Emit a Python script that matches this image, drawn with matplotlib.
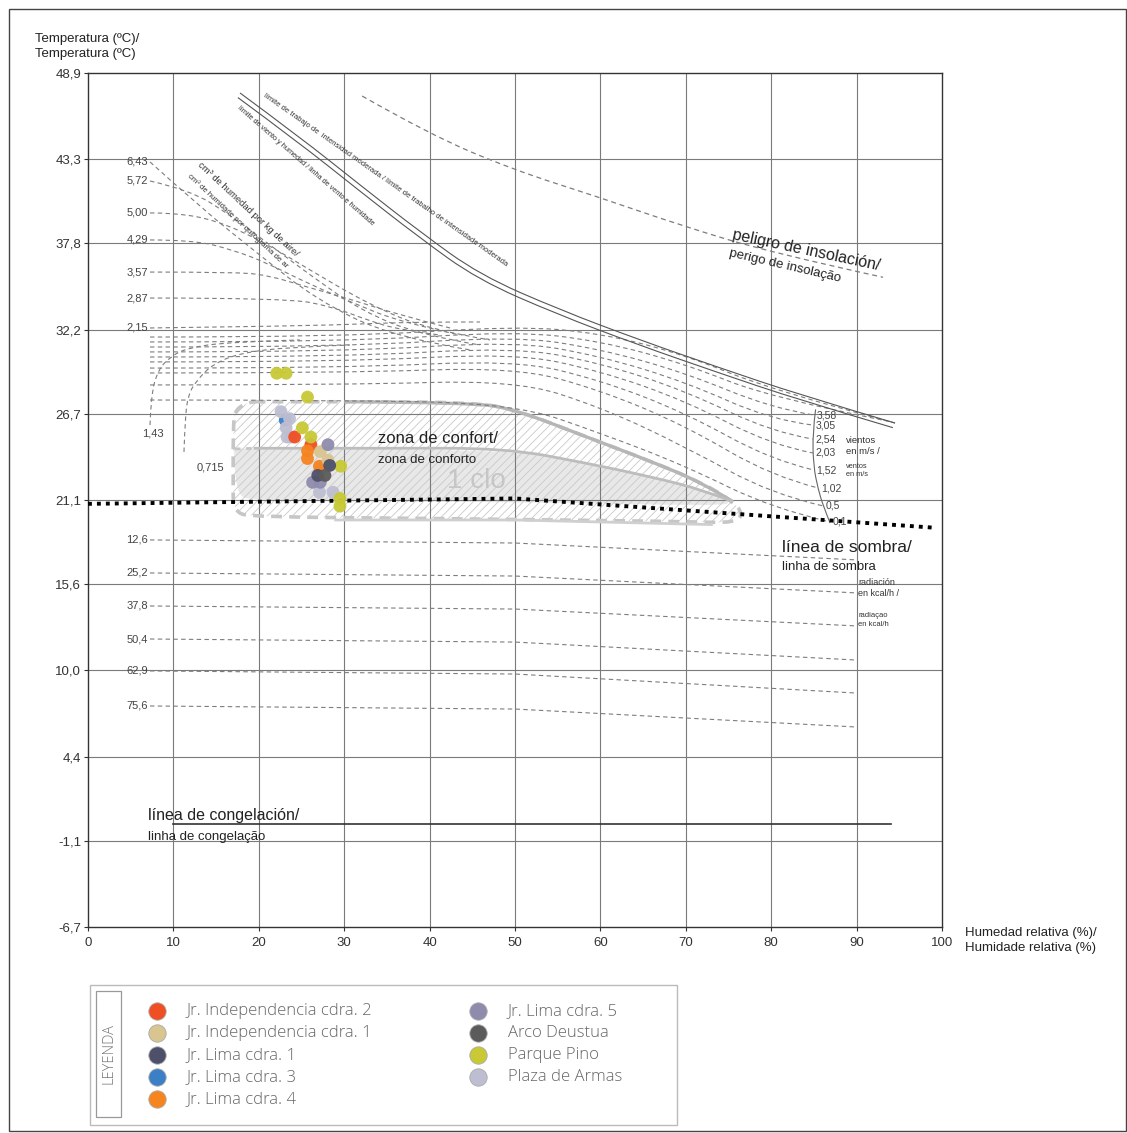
import numpy as np
import matplotlib
matplotlib.use("Agg")
import matplotlib.pyplot as plt
from matplotlib.path import Path
from matplotlib.patches import PathPatch, Rectangle

plt.rcParams['font.family'] = ['Liberation Sans', 'DejaVu Sans']
plt.rcParams['hatch.linewidth'] = 0.6

W, H = 1127, 1133

# ---------------- axis scales ----------------
hum_ticks = list(range(0, 101, 10))
temp_ticks = [48.9, 43.3, 37.8, 32.2, 26.7, 21.1, 15.6, 10.0, 4.4, -1.1, -6.7]
temp_tick_labels = ["48,9", "43,3", "37,8", "32,2", "26,7", "21,1", "15,6",
                    "10,0", "4,4", "-1,1", "-6,7"]

# ---------------- measured stations (humidity %, temperature C) ----------------
station_names = ["Jr. Independencia cdra. 2", "Jr. Independencia cdra. 1",
                 "Jr. Lima cdra. 1", "Jr. Lima cdra. 3", "Jr. Lima cdra. 4",
                 "Jr. Lima cdra. 5", "Arco Deustua", "Parque Pino",
                 "Plaza de Armas"]
station_colors = ["#f04e23", "#d9c590", "#4d5068", "#3b80c6", "#f6841f",
                  "#8f8bad", "#5b5b5b", "#c8c935", "#bebed2"]

lima3_hum = [23.1]
lima3_temp = [26.3]
plaza_hum = [22.6, 23.6, 23.2, 23.3, 23.8, 27.8, 27.1, 28.7]
plaza_temp = [26.85, 26.4, 25.8, 25.2, 25.2, 23.3, 21.6, 21.6]
indep2_hum = [24.2, 26.1]
indep2_temp = [25.2, 24.7]
pino_hum = [22.1, 23.2, 25.7, 25.1, 26.1, 29.6, 29.5, 29.5]
pino_temp = [29.35, 29.35, 27.8, 25.8, 25.2, 23.3, 21.2, 20.7]
lima4_hum = [25.7, 25.7, 27.1]
lima4_temp = [24.3, 23.8, 23.3]
indep1_hum = [27.2, 28.1]
indep1_temp = [24.25, 23.7]
lima5_hum = [28.1, 26.3, 27.2]
lima5_temp = [24.7, 22.25, 22.25]
lima1_hum = [28.3, 26.9]
lima1_temp = [23.35, 22.7]
arco_hum = [27.75]
arco_temp = [22.7]

# ---------------- bioclimatic reference curves ----------------
moisture_labels = ["6,43", "5,72", "5,00", "4,29", "3,57", "2,87", "2,15"]
moisture_curves = [
    [(7.26, 43.11), (13.11, 40.18), (19.79, 37.18), (26.81, 34.12), (35.71, 31.71), (44.73, 30.87)],
    [(7.26, 41.87), (11.94, 41.28), (16.63, 39.66), (21.31, 37.7), (26.0, 35.75), (31.85, 33.47), (38.88, 31.84), (45.9, 31.19)],
    [(7.26, 39.79), (10.19, 39.79), (14.87, 39.33), (20.14, 38.03), (26.0, 36.07), (33.02, 33.8), (40.05, 32.17), (47.07, 31.52)],
    [(7.26, 38.03), (12.3, 38.03), (16.98, 37.38), (20.96, 36.53), (25.64, 35.23), (31.03, 33.93), (36.53, 32.69), (43.56, 31.84)],
    [(7.26, 35.94), (16.98, 35.94), (20.96, 35.75), (25.64, 34.97), (31.03, 34.12), (36.53, 33.14), (42.39, 32.3)],
    [(7.26, 34.25), (23.3, 34.25), (28.69, 33.67), (32.67, 32.82), (36.53, 32.17), (41.22, 31.84)],
    [(7.26, 32.3), (24.82, 32.43), (31.85, 32.56), (38.88, 32.69), (45.9, 32.69)],
]

arc_labels = ["1,43", "0,715"]
arc_curves = [
    [(7.26, 25.98), (7.38, 27.94), (8.2, 29.56), (9.6, 30.41), (11.59, 31.0), (16.63, 31.39), (24.82, 31.52)],
    [(11.24, 24.23), (11.36, 26.31), (11.71, 27.94), (12.76, 28.91), (14.64, 29.95), (17.8, 30.67), (23.65, 31.06), (30.68, 31.19)],
]

wind_labels = ["3,58", "3,05", "2,54", "2,03", "1,52", "1,02", "0,5", "0,1"]
wind_start = [31.71, 31.39, 31.06, 30.74, 30.41, 30.09, 29.69, 29.37, 28.59, 27.61]
wind_at50 = [32.43, 32.1, 31.78, 31.45, 31.06, 30.67, 30.22, 29.76, 28.91, 27.35]
wind_at60 = [31.97, 31.45, 30.93, 30.47, 30.02, 29.5, 28.91, 28.26, 27.16, 25.46]
wind_at70 = [30.54, 29.95, 29.37, 28.78, 28.2, 27.55, 26.76, 25.92, 24.55, 23.31]
wind_at80 = [28.26, 27.74, 27.09, 26.31, 25.53, 24.68, 23.7, 22.66, 21.49, 20.58]
wind_end_hum = [94.5, 94.0, 85.0, 84.85, 84.85, 84.9, 85.0, 85.5, 86.1, 86.9]
wind_end_temp = [26.11, 26.2, 26.63, 25.98, 25.07, 24.16, 23.05, 21.88, 20.71, 19.67]
wind_end_curve = [(85.2, 27.0), (84.85, 25.5), (84.95, 23.3), (85.5, 21.8), (86.1, 20.7), (86.9, 19.6)]

radiation_labels = ["12,6", "25,2", "37,8", "50,4", "62,9", "75,6"]
radiation_left = [18.5, 16.35, 14.2, 12.05, 9.97, 7.69]
radiation_right = [17.2, 15.05, 12.9, 10.68, 8.53, 6.32]

work_limit = [(17.8, 47.6), (24.8, 44.73), (31.85, 41.61), (38.9, 38.55), (45.9, 35.75),
              (55.3, 33.47), (64.6, 31.52), (74.0, 29.7), (83.4, 27.94), (94.5, 26.11)]
insolation = [(32.1, 47.4), (40.0, 44.9), (49.8, 42.6), (59.9, 40.8), (69.3, 39.0),
              (80.0, 37.2), (93.1, 35.6)]
shade_line = [(0, 20.85), (50, 21.2), (99, 19.3)]
freeze_temp = 0.0
freeze_span = (10, 94)

comfort_outline = [(19.5, 27.5), (32, 27.5), (45, 27.45), (50, 27.0), (58.4, 25.2), (66, 23.6),
                   (72, 22.2), (75.5, 21.0), (76.6, 20.3), (76, 19.6), (70, 19.7), (40, 19.9),
                   (19.5, 20.0), (17.0, 20.3), (17.0, 22.5), (17.0, 25.5), (17.2, 27.3), (19.5, 27.5)]
comfort_top = [(30, 27.5), (45, 27.45), (50, 27.0), (58.4, 25.2), (66, 23.6), (72, 22.2), (75.5, 21.0)]
comfort_mid = [(19.4, 24.47), (35, 24.47), (49, 24.47), (58.4, 23.5), (66, 22.6), (72.05, 21.75), (75.5, 21.0)]
comfort_low = [(29, 19.8), (50, 19.8), (73, 19.5)]
winter_band = [(17.1, 24.45), (49, 24.47), (58.4, 23.5), (66, 22.6), (72.05, 21.75), (75.5, 21.0),
               (74, 20.7), (50, 21.0), (19.5, 21.0), (17.1, 21.5), (17.1, 24.45)]


def smooth_path(pts, closed=False):
    pts = np.asarray(pts, float)
    verts = [pts[0]]
    codes = [Path.MOVETO]
    for i in range(1, len(pts) - 2):
        verts += [pts[i], (pts[i] + pts[i + 1]) / 2]
        codes += [Path.CURVE3, Path.CURVE3]
    verts += [pts[-2], pts[-1]]
    codes += [Path.CURVE3, Path.CURVE3]
    if closed:
        verts.append(pts[0])
        codes.append(Path.CLOSEPOLY)
    return Path(verts, codes)


def curve(ax, pts, **kw):
    ax.add_patch(PathPatch(smooth_path(pts), fill=False, **kw))


fig = plt.figure(figsize=(W / 100, H / 100), dpi=100)
ax = fig.add_axes([88 / W, 1 - 927 / H, 854 / W, 854 / H])
ax.set_xlim(0, 100)
ax.set_ylim(-6.7, 48.9)

for s in ax.spines.values():
    s.set_color("#333333")
    s.set_linewidth(1.0)

ax.set_xticks(hum_ticks)
ax.set_xticklabels([str(v) for v in hum_ticks])
ax.set_yticks(temp_ticks)
ax.set_yticklabels(temp_tick_labels)
ax.tick_params(axis="both", labelsize=9.5, colors="#333333", length=3, width=0.8)
ax.tick_params(axis="x", pad=4)
ax.tick_params(axis="y", pad=2)

for v in hum_ticks[1:-1]:
    ax.axvline(v, color="#7a7a7a", lw=0.8, zorder=2)
for v in temp_ticks[1:-1]:
    ax.axhline(v, color="#7a7a7a", lw=0.8, zorder=2)

dash = (0, (4, 3))
gcol = "#7d7d7d"

# comfort zone
ax.add_patch(PathPatch(smooth_path(winter_band, closed=True), facecolor="#e8e8e8",
                       edgecolor="none", lw=0, zorder=1))
ax.add_patch(PathPatch(smooth_path(comfort_outline, closed=True), facecolor="none",
                       edgecolor="#c9c9c9", lw=0, hatch="////", zorder=1.2))
ax.add_patch(PathPatch(smooth_path(comfort_outline), fill=False, edgecolor="#c6c6c6",
                       lw=2.6, linestyle=(0, (3, 2)), zorder=3))
curve(ax, comfort_top, edgecolor="#b6b6b6", lw=2.4, zorder=3.1)
curve(ax, comfort_mid, edgecolor="#bdbdbd", lw=2.0, zorder=3.1)
ax.plot([17.2, 19.4], [24.42, 24.47], color="#c6c6c6", lw=2.0, linestyle=(0, (2, 2)), zorder=3)
ax.plot([p[0] for p in comfort_low], [p[1] for p in comfort_low], color="#cfcfcf", lw=2.0, zorder=3)
ax.text(45.5, 22.35, "1 clo", fontsize=20, color="#c6c6c6", ha="center", va="center", zorder=3.5)

# humidity, wind and radiation families
for lab, pts in zip(moisture_labels, moisture_curves):
    curve(ax, pts, edgecolor=gcol, lw=0.8, linestyle=dash, zorder=4)
    ax.text(7.0, pts[0][1], lab, fontsize=8, color="#444444", ha="right", va="center")
for lab, pts in zip(arc_labels, arc_curves):
    curve(ax, pts, edgecolor=gcol, lw=0.8, linestyle=dash, zorder=4)
ax.text(7.6, 25.45, arc_labels[0], fontsize=8, color="#444444", ha="center", va="center")
ax.text(14.3, 23.2, arc_labels[1], fontsize=8, color="#444444", ha="center", va="center")

for i in range(len(wind_start)):
    pts = [(7.26, wind_start[i]), (30, wind_start[i]), (50, wind_at50[i]), (60, wind_at60[i]),
           (70, wind_at70[i]), (80, wind_at80[i]), (wind_end_hum[i], wind_end_temp[i])]
    curve(ax, pts, edgecolor=gcol, lw=0.8, linestyle=dash, zorder=4)
for lab, xe, ye in zip(wind_labels, wind_end_hum[2:], wind_end_temp[2:]):
    ax.text(xe + 0.3, ye, lab, fontsize=7.5, color="#444444", ha="left", va="center", zorder=6)
curve(ax, wind_end_curve, edgecolor="#666666", lw=0.8, zorder=4)
ax.text(88.8, 24.6, "vientos\nen m/s /", fontsize=6.8, color="#333333", ha="left", va="center",
        linespacing=1.25)
ax.text(88.8, 23.0, "ventos\nen m/s", fontsize=5.3, color="#333333", ha="left", va="center",
        linespacing=1.25)

for lab, y0, y1 in zip(radiation_labels, radiation_left, radiation_right):
    ax.plot([7.26, 50, 90], [y0, y0 - 0.2, y1], color=gcol, lw=0.8, linestyle=dash, zorder=4)
    ax.text(7.0, y0, lab, fontsize=8, color="#444444", ha="right", va="center")
ax.text(90.2, 15.4, "radiación\nen kcal/h /", fontsize=6.5, color="#333333", ha="left",
        va="center", linespacing=1.3)
ax.text(90.2, 13.3, "radiaçao\nen kcal/h", fontsize=5.5, color="#333333", ha="left",
        va="center", linespacing=1.3)

# limits of work / wind and humidity
curve(ax, work_limit, edgecolor="#555555", lw=0.8, zorder=4)
curve(ax, [(x - 0.25, y - 0.3) for x, y in work_limit], edgecolor="#555555", lw=0.8, zorder=4)
curve(ax, insolation, edgecolor=gcol, lw=0.9, linestyle=dash, zorder=4)

# shade and freezing lines
ax.plot([p[0] for p in shade_line], [p[1] for p in shade_line], color="black", lw=2.8,
        linestyle=(0, (1, 1.3)), zorder=5, clip_on=False)
ax.plot(freeze_span, [freeze_temp, freeze_temp], color="#333333", lw=1.2, zorder=4)

# station readings
layers = [(lima3_hum, lima3_temp, 3), (plaza_hum, plaza_temp, 8), (indep2_hum, indep2_temp, 0),
          (pino_hum, pino_temp, 7), (lima4_hum, lima4_temp, 4), (indep1_hum, indep1_temp, 1),
          (lima5_hum, lima5_temp, 5), (lima1_hum, lima1_temp, 2), (arco_hum, arco_temp, 6)]
for hx, ty, ci in layers:
    ax.scatter(hx, ty, s=85, color=station_colors[ci], edgecolors="none", alpha=0.95, zorder=7)

# in-chart annotations (pixel layout helper)
def ftext(px, py, s, **kw):
    fig.text(px / W, 1 - py / H, s, **kw)

ftext(378, 443, "zona de confort/", fontsize=12, color="#222222")
ftext(378, 463, "zona de conforto", fontsize=9.5, color="#222222")
ftext(782, 552, "línea de sombra/", fontsize=12.5, color="#222222")
ftext(782, 570, "linha de sombra", fontsize=9.5, color="#222222")
ftext(148, 820, "línea de congelación/", fontsize=11.5, color="#222222")
ftext(148, 840, "linha de congelação", fontsize=9.5, color="#222222")
ftext(806, 250, "peligro de insolación/", fontsize=11.5, color="#222222", rotation=-12,
      ha="center", va="center", rotation_mode="anchor")
ftext(785, 266, "perigo de insolação", fontsize=9.5, color="#222222", rotation=-13,
      ha="center", va="center", rotation_mode="anchor")
ftext(248, 209, "cm³ de humedad por kg de aire/", fontsize=6.8, color="#333333", rotation=-43,
      ha="center", va="center", rotation_mode="anchor")
ftext(238, 221, "cm³ de humidade por quilograma de ar", fontsize=5.6, color="#333333",
      rotation=-43, ha="center", va="center", rotation_mode="anchor")
ftext(385, 180, "límite de trabajo de  intensidad moderada / límite de trabalho de intensidade moderada",
      fontsize=5.5, color="#333333", rotation=-35, ha="center", va="center", rotation_mode="anchor")
ftext(306, 166, "límite de viento y humedad / linha de vento e humidade", fontsize=5.3,
      color="#333333", rotation=-41, ha="center", va="center", rotation_mode="anchor")

ftext(35, 33, "Temperatura (ºC)/\nTemperatura (ºC)", fontsize=9.5, color="#222222", va="top",
      linespacing=1.3)
ftext(965, 927, "Humedad relativa (%)/\nHumidade relativa (%)", fontsize=9.5, color="#222222",
      va="top", linespacing=1.3)

# outer frame
fig.patches.append(Rectangle((9 / W, 1 - 1131 / H), 1117 / W, 1122 / H, transform=fig.transFigure,
                             fill=False, edgecolor="#444444", lw=1.0))

# legend
lax = fig.add_axes([0, 0, 1, 1], facecolor="none")
lax.set_xlim(0, W)
lax.set_ylim(H, 0)
lax.axis("off")
lax.add_patch(Rectangle((90, 985), 587, 140, fill=False, edgecolor="#bbbbbb", lw=1.0))
lax.add_patch(Rectangle((96, 991), 25, 126, fill=False, edgecolor="#999999", lw=0.9))
lax.text(108.5, 1054, "LEYENDA", rotation=90, ha="center", va="center", fontsize=10.5,
         color="#777777", family=["Open Sans", "DejaVu Sans"], fontweight="light")
rows = [(157, 1011), (157, 1033), (157, 1055), (157, 1077), (157, 1099),
        (478, 1011), (478, 1033), (478, 1055), (478, 1077)]
for (cx, cy), name, col in zip(rows, station_names, station_colors):
    lax.plot([cx], [cy], marker="o", markersize=12.5, color=col, markeredgecolor="#aaaaaa",
             markeredgewidth=0.6)
    lax.text(cx + 30, cy, name, fontsize=12, color="#666666", va="center", ha="left",
             family=["Open Sans", "DejaVu Sans"], fontweight="light")

fig.savefig("out.png", dpi=100)
